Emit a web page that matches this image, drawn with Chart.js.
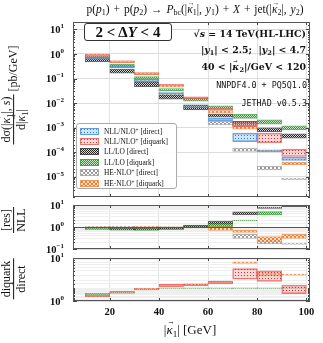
<!DOCTYPE html>
<html>
<head>
<meta charset="utf-8">
<script src="https://cdn.jsdelivr.net/npm/chart.js@4.4.1/dist/chart.umd.min.js"></script>
<style>
  body { margin: 0; background: #fff; }
  #wrap { position: relative; width: 323px; height: 343px; overflow: hidden; font-family: "Liberation Serif", "DejaVu Serif", serif; color: #111; }
  canvas.panel { position: absolute; left: 15px; }
  .abs { position: absolute; white-space: nowrap; }
  sub { font-size: 70%; vertical-align: -0.3em; line-height: 0; }
  sup { font-size: 70%; vertical-align: 0.45em; line-height: 0; }
  .vec { position: relative; display: inline-block; }
  .vec::after { content: "→"; position: absolute; left: 0.1em; top: -0.62em; font-size: 0.6em; font-style: normal; }
  .frac { display: inline-flex; flex-direction: column; align-items: center; vertical-align: middle; }
  .frac .num { border-bottom: 1px solid #111; padding: 0 2px; line-height: 1.2; }
  .frac .den { line-height: 1.2; }
  .rot { transform: translate(-50%, -50%) rotate(-90deg); font-size: 12px; }
  .note { right: 17px; font-family: "DejaVu Serif", serif; font-size: 9.4px; font-weight: bold; }
  .mono { right: 16px; font-family: "DejaVu Sans Mono", monospace; font-size: 8.4px; }
  #legend { position: absolute; left: 76px; top: 123px; width: 101px; height: 66px; box-sizing: border-box;
            border: 1px solid #aaa; border-radius: 3px; background: rgba(255,255,255,0.92); padding: 2px 0 0 3px; z-index: 5; }
  .lrow { display: flex; align-items: center; height: 10.4px; font-size: 7.4px; white-space: nowrap; }
  .lrow canvas { margin-right: 5px; }
</style>
</head>
<body>
<div id="wrap">
  <canvas id="main" class="panel" width="307" height="191" style="top:14px"></canvas>
  <canvas id="res" class="panel" width="307" height="60" style="top:197px"></canvas>
  <canvas id="diq" class="panel" width="307" height="67" style="top:250px"></canvas>

  <div class="abs" style="left:195px; top:3px; transform:translateX(-50%); font-size:11.5px; word-spacing:1px;">p(<i>p</i><sub>1</sub>) + p(<i>p</i><sub>2</sub>) → <i>P</i><sub>bc</sub>(|<span class="vec"><i>κ</i></span><sub>1</sub>|, <i>y</i><sub>1</sub>) + <i>X</i> + jet(|<span class="vec"><i>κ</i></span><sub>2</sub>|, <i>y</i><sub>2</sub>)</div>

  <div class="abs" style="left:84px; top:23px; width:88px; height:18px; box-sizing:border-box; border:1px solid #333; border-radius:3px; background:#fff; font-size:15px; font-weight:bold; text-align:center; line-height:16px; z-index:5;">2 &lt; Δ<i>Y</i> &lt; 4</div>

  <div class="abs note" style="top:28px;">√<i>s</i> = 14 TeV(HL-LHC)</div>
  <div class="abs note" style="top:44px;">|<i>y</i><sub>1</sub>| &lt; 2.5;&nbsp; |<i>y</i><sub>2</sub>| &lt; 4.7</div>
  <div class="abs note" style="top:61px;">40 &lt; |<span class="vec"><i>κ</i></span><sub>2</sub>|/GeV &lt; 120</div>
  <div class="abs mono" style="top:80px;">NNPDF4.0 + PQ5Q1.0</div>
  <div class="abs mono" style="top:98px;">JETHAD v0.5.3</div>

  <div class="abs rot" style="left:14px; top:95px;"><span class="frac"><span class="num">dσ(|<span class="vec"><i>κ</i></span><sub>1</sub>|, <i>s</i>)</span><span class="den">d|<span class="vec"><i>κ</i></span><sub>1</sub>|</span></span> [pb/GeV]</div>
  <div class="abs rot" style="left:14px; top:220px;"><span class="frac"><span class="num">[res]</span><span class="den">NLL</span></span></div>
  <div class="abs rot" style="left:14px; top:279px;"><span class="frac"><span class="num">diquark</span><span class="den">direct</span></span></div>

  <div class="abs" style="left:190px; top:322px; transform:translateX(-50%); font-size:13px;">|<span class="vec"><i>κ</i></span><sub>1</sub>| [GeV]</div>

  <div id="legend"></div>
</div>

<script>
// bins of |kappa_1| (GeV), one value per bin
const binCenters = [15, 25, 35, 45, 55, 65, 75, 85, 95];

// main panel: cross section bands [pb/GeV]
const nllDirectLo  = [0.60, 0.27, 0.075, 0.024, 0.0065, 0.0019, 0.00027, 0.000108, 0.000046];
const nllDirectHi  = [0.74, 0.34, 0.092, 0.029, 0.0078, 0.0024, 0.0006, 0.000122, 0.000063];
const nllDiquarkLo = [0.80, 0.45, 0.148, 0.050, 0.015, 0.0052, 0.0011, 0.00024, 0.000067];
const nllDiquarkHi = [0.95, 0.53, 0.172, 0.058, 0.018, 0.0062, 0.0016, 0.0006, 0.000134];
const llDirectLo   = [0.47, 0.164, 0.047, 0.0144, 0.0053, 0.0027, 0.0012, 0.00068, 0.00037];
const llDirectHi   = [0.69, 0.24, 0.073, 0.0216, 0.0085, 0.0036, 0.0018, 0.00098, 0.00056];
const llDiquarkLo  = [0.69, 0.30, 0.094, 0.032, 0.012, 0.0053, 0.0024, 0.0014, 0.00081];
const llDiquarkHi  = [0.85, 0.39, 0.12, 0.039, 0.0165, 0.0077, 0.0035, 0.0021, 0.00118];
const heDirectLo   = [0.66, 0.28, 0.078, 0.020, 0.0058, 0.0013, 0.000107, 0.000019, 0.0000077];
const heDirectHi   = [0.72, 0.33, 0.090, 0.024, 0.0071, 0.0018, 0.000147, 0.0000263, 0.0000088];
const heDiquarkLo  = [0.83, 0.44, 0.144, 0.044, 0.0135, 0.0039, 0.00087, 0.000104, 0.000031];
const heDiquarkHi  = [1.0, 0.53, 0.174, 0.055, 0.0174, 0.0049, 0.00118, 0.000126, 0.00004];

// middle panel: [res]/NLL
const llDirRatioLo = [0.88, 0.74, 0.74, 0.80, 0.97, 1.33, 3.5, 7.0, 8.5];
const llDirRatioHi = [1.0, 0.86, 0.86, 1.0, 1.23, 1.87, 4.9, 8.1, 10];
const llDiqRatioLo = [0.76, 0.71, 0.70, 0.75, 1.0, 1.07, 1.9, 3.5, 9.0];
const llDiqRatioHi = [0.90, 0.85, 0.85, 0.90, 1.15, 1.5, 2.05, 5.0, 10.5];
const heDirRatioLo = [0.98, 1.0, 0.97, 0.97, 0.95, 0.9, 0.30, 0.17, 0.16];
const heDirRatioHi = [1.05, 1.1, 1.03, 1.03, 1.0, 1.0, 0.47, 0.22, 0.18];
const heDiqRatioLo = [0.97, 0.98, 1.0, 0.97, 0.9, 0.7, 0.57, 0.19, 0.30];
const heDiqRatioHi = [1.04, 1.05, 1.1, 1.03, 1.0, 1.07, 0.70, 0.37, 0.47];

// bottom panel: diquark/direct
const nllQuotLo = [1.26, 1.53, 1.85, 2.15, 2.27, 2.5, 3.2, 2.85, 1.48];
const nllQuotHi = [1.36, 1.65, 1.97, 2.44, 2.5, 2.9, 5.65, 5.0, 2.33];
const llQuotLo  = [1.40, 1.53, 1.80, 1.96, 1.96, 1.96, 1.96, 1.96, 1.95];
const llQuotHi  = [1.51, 1.65, 1.90, 2.02, 2.02, 2.02, 2.02, 2.02, 2.05];
const heQuotLo  = [1.26, 1.55, 1.90, 2.3, 2.35, 2.6, 7.5, 3.8, 4.0];
const heQuotHi  = [1.36, 1.63, 1.97, 2.4, 2.45, 2.8, 8.1, 4.55, 4.25];

const xTicks = [20, 40, 60, 80, 100];
const seriesLabels = [
  "NLL/NLO<sup>+</sup> [direct]",
  "NLL/NLO<sup>+</sup> [diquark]",
  "LL/LO [direct]",
  "LL/LO [diquark]",
  "HE-NLO<sup>+</sup> [direct]",
  "HE-NLO<sup>+</sup> [diquark]",
];

// hatch styles, one per series
const styles = {
  nllDirect:  { kind: "dots",    fg: "#2f7fd0", bg: "rgba(150,195,240,0.45)", line: "rgba(70,140,215,0.8)" },
  nllDiquark: { kind: "dots",    fg: "#e0302a", bg: "rgba(245,170,170,0.45)", line: "rgba(230,90,85,0.8)" },
  llDirect:   { kind: "checker", fg: "#222",    bg: "#d8d8d8",                 line: "rgba(60,60,60,0.8)" },
  llDiquark:  { kind: "checker", fg: "#2f9a2f", bg: "#c4e8c4",                 line: "rgba(60,160,60,0.8)" },
  heDirect:   { kind: "cross",   fg: "#9a9a9a", bg: "#ffffff",                 line: "rgba(170,170,170,0.9)" },
  heDiquark:  { kind: "cross",   fg: "#ee7d2c", bg: "#fde1cb",                 line: "rgba(240,150,90,0.9)" },
};

const SUP = { "-": "−", "0": "0", "1": "1", "2": "2", "3": "3", "4": "4", "5": "5", "6": "6", "7": "7", "8": "8", "9": "9" };

function isDecade(v) {
  const e = Math.log10(v);
  return Math.abs(e - Math.round(e)) < 1e-6;
}

/**
 * small repeating hatch tile
 */
function makePattern(st) {
  const c = document.createElement("canvas");
  const g = c.getContext("2d");
  if (st.kind === "dots") {
    c.width = 3; c.height = 3;
    g.fillStyle = st.bg; g.fillRect(0, 0, 3, 3);
    g.fillStyle = st.fg; g.fillRect(1, 1, 1, 1);
  } else if (st.kind === "checker") {
    c.width = 2; c.height = 2;
    g.fillStyle = st.bg; g.fillRect(0, 0, 2, 2);
    g.fillStyle = st.fg; g.fillRect(0, 0, 1, 1); g.fillRect(1, 1, 1, 1);
  } else {
    c.width = 4; c.height = 4;
    g.fillStyle = st.bg; g.fillRect(0, 0, 4, 4);
    g.fillStyle = st.fg;
    for (let i = 0; i < 4; i++) { g.fillRect(i, i, 1, 1); g.fillRect(3 - i, i, 1, 1); }
  }
  return g.createPattern(c, "repeat");
}

function band(label, lo, hi, st, order) {
  return {
    label: label,
    data: binCenters.map((x, i) => ({ x: x, y: [lo[i], hi[i]] })),
    backgroundColor: makePattern(st),
    borderColor: st.line,
    borderWidth: 1,
    borderSkipped: false,
    grouped: false,
    barPercentage: 1,
    categoryPercentage: 1,
    order: order,
  };
}

// frame, inward ticks, unity line and 10^n labels
const framePlugin = {
  id: "frame",
  afterDatasetsDraw(chart, args, opts) {
    const { ctx, chartArea: a, scales } = chart;
    ctx.save();
    ctx.lineWidth = 1;
    if (opts.unity) {
      const y = Math.round(scales.y.getPixelForValue(1)) + 0.5;
      ctx.strokeStyle = "#555";
      ctx.beginPath(); ctx.moveTo(a.left, y); ctx.lineTo(a.right, y); ctx.stroke();
    }
    ctx.strokeStyle = "#444";
    ctx.beginPath();
    xTicks.forEach((t) => {
      const x = Math.round(scales.x.getPixelForValue(t)) + 0.5;
      ctx.moveTo(x, a.top); ctx.lineTo(x, a.top + 3);
      ctx.moveTo(x, a.bottom); ctx.lineTo(x, a.bottom - 3);
    });
    scales.y.ticks.forEach((t) => {
      const y = Math.round(scales.y.getPixelForValue(t.value)) + 0.5;
      const len = isDecade(t.value) ? 4 : 2;
      ctx.moveTo(a.left, y); ctx.lineTo(a.left + len, y);
      ctx.moveTo(a.right, y); ctx.lineTo(a.right - len, y);
    });
    ctx.stroke();
    ctx.strokeStyle = "#555";
    ctx.strokeRect(Math.round(a.left) + 0.5, Math.round(a.top) + 0.5, Math.round(a.right - a.left) - 1, Math.round(a.bottom - a.top) - 1);

    // y labels as 10 with a raised exponent
    ctx.fillStyle = "#111";
    ctx.textBaseline = "middle";
    ctx.textAlign = "left";
    scales.y.ticks.forEach((t) => {
      if (!isDecade(t.value)) return;
      const y = scales.y.getPixelForValue(t.value);
      const ex = String(Math.round(Math.log10(t.value))).split("").map((c) => SUP[c]).join("");
      ctx.font = "bold 7px 'Liberation Serif'";
      const we = ctx.measureText(ex).width;
      ctx.font = "bold 10.5px 'Liberation Serif'";
      const wb = ctx.measureText("10").width;
      const right = a.left - 9;
      ctx.fillText("10", right - we - wb, y + 1);
      ctx.font = "bold 7px 'Liberation Serif'";
      ctx.fillText(ex, right - we, y - 3);
    });
    ctx.restore();
  },
};

function panelOptions(yMin, yMax, showX, minorGrid, unity) {
  return {
    responsive: false,
    animation: false,
    events: [],
    layout: { padding: { left: 0, right: 12, top: 8, bottom: showX ? 0 : 8 } },
    plugins: { legend: { display: false }, tooltip: { enabled: false }, frame: { unity: unity } },
    scales: {
      x: {
        type: "linear",
        min: 5,
        max: 101.5,
        offset: false,
        grid: { offset: false, drawTicks: false, color: "#e2e2e2" },
        border: { display: false },
        ticks: {
          display: showX,
          stepSize: 20,
          includeBounds: false,
          padding: 5,
          color: "#111",
          font: { family: "Liberation Serif", size: 10.5, weight: "bold" },
        },
        afterFit: (s) => { s.height = showX ? 16 : 0; },
      },
      y: {
        type: "logarithmic",
        min: yMin,
        max: yMax,
        border: { display: false },
        grid: {
          drawTicks: false,
          color: (c) => (isDecade(c.tick.value) ? "#dcdcdc" : (minorGrid ? "#efefef" : "rgba(0,0,0,0)")),
        },
        ticks: {
          autoSkip: false,
          display: false,
        },
        afterFit: (s) => { s.width = 58; },
      },
    },
  };
}

Chart.register(framePlugin);

// top panel, first dataset drawn on top
new Chart(document.getElementById("main"), {
  type: "bar",
  data: {
    datasets: [
      band(seriesLabels[0], nllDirectLo, nllDirectHi, styles.nllDirect, 0),
      band(seriesLabels[1], nllDiquarkLo, nllDiquarkHi, styles.nllDiquark, 1),
      band(seriesLabels[2], llDirectLo, llDirectHi, styles.llDirect, 2),
      band(seriesLabels[3], llDiquarkLo, llDiquarkHi, styles.llDiquark, 3),
      band(seriesLabels[4], heDirectLo, heDirectHi, styles.heDirect, 4),
      band(seriesLabels[5], heDiquarkLo, heDiquarkHi, styles.heDiquark, 5),
    ],
  },
  options: panelOptions(1.5e-6, 20, false, false, false),
});

new Chart(document.getElementById("res"), {
  type: "bar",
  data: {
    datasets: [
      band("LL/LO [direct]", llDirRatioLo, llDirRatioHi, styles.llDirect, 2),
      band("LL/LO [diquark]", llDiqRatioLo, llDiqRatioHi, styles.llDiquark, 3),
      band("HE-NLO+ [direct]", heDirRatioLo, heDirRatioHi, styles.heDirect, 4),
      band("HE-NLO+ [diquark]", heDiqRatioLo, heDiqRatioHi, styles.heDiquark, 5),
    ],
  },
  options: panelOptions(0.1, 10, false, true, true),
});

new Chart(document.getElementById("diq"), {
  type: "bar",
  data: {
    datasets: [
      band("NLL/NLO+", nllQuotLo, nllQuotHi, styles.nllDiquark, 1),
      band("LL/LO", llQuotLo, llQuotHi, styles.llDiquark, 3),
      band("HE-NLO+", heQuotLo, heQuotHi, styles.heDiquark, 5),
    ],
  },
  options: panelOptions(1, 10, true, true, false),
});

// legend inside the top panel
const legendBox = document.getElementById("legend");
Object.keys(styles).forEach((key, i) => {
  const row = document.createElement("div");
  row.className = "lrow";
  const sw = document.createElement("canvas");
  sw.width = 19; sw.height = 7;
  const g = sw.getContext("2d");
  g.fillStyle = makePattern(styles[key]);
  g.fillRect(0, 0, 19, 7);
  g.strokeStyle = styles[key].line;
  g.strokeRect(0.5, 0.5, 18, 6);
  row.appendChild(sw);
  const txt = document.createElement("span");
  txt.innerHTML = seriesLabels[i];
  row.appendChild(txt);
  legendBox.appendChild(row);
});
</script>
</body>
</html>
